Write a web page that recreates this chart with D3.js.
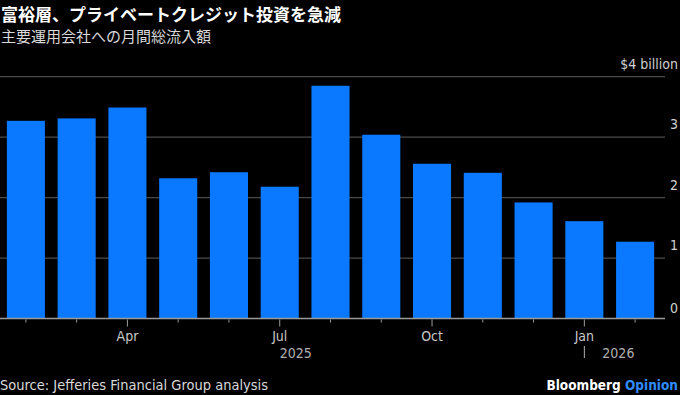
<!DOCTYPE html>
<html>
  <head>
    <meta charset="utf-8">
    <title>富裕層、プライベートクレジット投資を急減</title>
    <style>
      body {
        margin: 0;
        background-color: black;
      }
      svg {
        display: block;
        background-color: black;
      }
      .latin {
        font-family: "Liberation Sans Narrow", "DejaVu Sans Condensed", "Liberation Sans", sans-serif;
      }
    </style>
  </head>
  <body>
    <div id="chart"></div>

    <script src="https://d3js.org/d3.v7.min.js"></script>
    <script>
    // monthly net inflows, $ billion
    var months = ["2025-02", "2025-03", "2025-04", "2025-05", "2025-06", "2025-07", "2025-08",
                  "2025-09", "2025-10", "2025-11", "2025-12", "2026-01", "2026-02"];
    var inflows = [3.27, 3.31, 3.49, 2.32, 2.42, 2.18, 3.85, 3.04, 2.56, 2.41, 1.92, 1.61, 1.27];
    var yTicks = [0, 1, 2, 3, 4];
    var monthLabels = {"2025-04": "Apr", "2025-07": "Jul", "2025-10": "Oct", "2026-01": "Jan"};
    var yearLabels = [{at: "2025-07", text: "2025"}, {at: "2026-01", text: "2026"}];

    var width = 680;
    var height = 395;
    var plot = {left: 0.5, right: 660.5, top: 76.7, bottom: 318.5};

    var svg = d3.select("#chart").append("svg")
      .attr("width", width)
      .attr("height", height);

    svg.append("text")
      .attr("x", 1).attr("y", 21)
      .attr("fill", "white")
      .attr("font-family", "Noto Sans CJK JP")
      .attr("font-weight", "bold")
      .attr("font-size", 17)
      .text("富裕層、プライベートクレジット投資を急減");

    svg.append("text")
      .attr("x", 1).attr("y", 42)
      .attr("fill", "#d9d9d9")
      .attr("font-family", "Noto Sans CJK JP")
      .attr("font-size", 15)
      .text("主要運用会社への月間総流入額");

    var x = d3.scaleBand()
      .domain(months)
      .range([plot.left, plot.right])
      .paddingInner(0.25)
      .paddingOuter(0.125);

    var y = d3.scaleLinear()
      .domain([0, 4])
      .range([plot.bottom, plot.top]);

    // gridlines
    svg.append("g")
      .selectAll("line")
      .data(yTicks.filter(function(d) { return d > 0; }))
      .enter()
      .append("line")
      .attr("x1", 0)
      .attr("x2", 665)
      .attr("y1", function(d) { return y(d); })
      .attr("y2", function(d) { return y(d); })
      .attr("stroke", "#4a4a4a")
      .attr("stroke-width", 1.2);

    // y labels on the right
    svg.append("g")
      .attr("class", "latin")
      .selectAll("text")
      .data(yTicks)
      .enter()
      .append("text")
      .attr("x", 678)
      .attr("y", function(d) { return y(d) - (d == 0 ? 6 : 8); })
      .attr("text-anchor", "end")
      .attr("fill", "#d0d0d0")
      .attr("font-size", 14)
      .text(function(d) { return d == 4 ? "$4 billion" : d; });

    // bars
    svg.append("g")
      .selectAll("rect")
      .data(inflows)
      .enter()
      .append("rect")
      .attr("x", function(d, i) { return x(months[i]); })
      .attr("width", x.bandwidth())
      .attr("y", function(d) { return y(d); })
      .attr("height", function(d) { return y(0) - y(d); })
      .attr("fill", "#0a78ff");

    // baseline
    svg.append("line")
      .attr("x1", 0).attr("x2", 665)
      .attr("y1", y(0)).attr("y2", y(0))
      .attr("stroke", "#9a9a9a")
      .attr("stroke-width", 1.5);

    // ticks
    svg.append("g")
      .selectAll("line")
      .data(months)
      .enter()
      .append("line")
      .attr("x1", function(d) { return x(d) + x.bandwidth() / 2; })
      .attr("x2", function(d) { return x(d) + x.bandwidth() / 2; })
      .attr("y1", y(0) + 1)
      .attr("y2", function(d) { return y(0) + (monthLabels[d] ? 8 : 4); })
      .attr("stroke", "#9a9a9a")
      .attr("stroke-width", 1);

    var axisText = svg.append("g").attr("class", "latin");

    axisText.selectAll("text.month")
      .data(months.filter(function(d) { return monthLabels[d]; }))
      .enter()
      .append("text")
      .attr("class", "month")
      .attr("x", function(d) { return x(d) + x.bandwidth() / 2; })
      .attr("y", 341)
      .attr("text-anchor", "middle")
      .attr("fill", "#c8c8c8")
      .attr("font-size", 14)
      .text(function(d) { return monthLabels[d]; });

    axisText.selectAll("text.year")
      .data(yearLabels)
      .enter()
      .append("text")
      .attr("class", "year")
      .attr("x", function(d, i) { return x(d.at) + x.bandwidth() / 2 + (i == 0 ? 0 : 18); })
      .attr("y", 358)
      .attr("fill", "#b0b0b0")
      .attr("font-size", 14)
      .text(function(d) { return d.text; });

    // year separator at Jan
    svg.append("line")
      .attr("x1", x("2026-01") + x.bandwidth() / 2)
      .attr("x2", x("2026-01") + x.bandwidth() / 2)
      .attr("y1", 346).attr("y2", 358)
      .attr("stroke", "#b0b0b0")
      .attr("stroke-width", 1);

    // footer
    svg.append("text")
      .attr("class", "latin")
      .attr("x", 0).attr("y", 390)
      .attr("fill", "#d9d9d9")
      .attr("font-size", 14.5)
      .text("Source: Jefferies Financial Group analysis");

    var brand = svg.append("text")
      .attr("class", "latin")
      .attr("x", 678).attr("y", 390)
      .attr("text-anchor", "end")
      .attr("font-size", 13.5)
      .attr("font-weight", "bold");
    brand.append("tspan").attr("fill", "white").text("Bloomberg ");
    brand.append("tspan").attr("fill", "#2f8cff").text("Opinion");
    </script>
  </body>
</html>
